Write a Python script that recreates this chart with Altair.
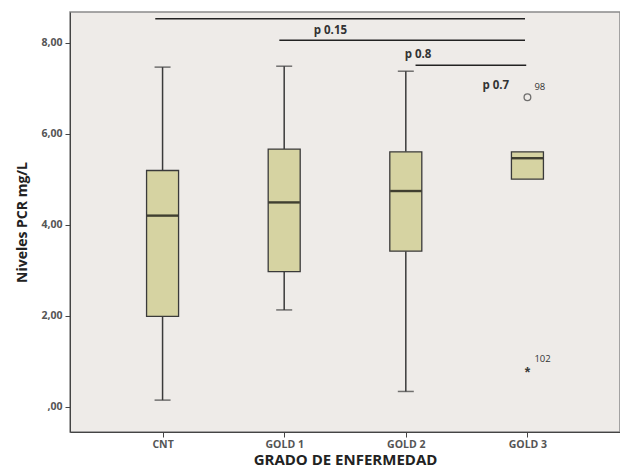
import altair as alt
import pandas as pd

# ---- data ----
categories = ["CNT", "GOLD 1", "GOLD 2", "GOLD 3"]
mins = [0.15, 2.13, 0.34, 5.00]
q1s = [1.99, 2.97, 3.42, 5.00]
medians = [4.20, 4.49, 4.74, 5.46]
q3s = [5.19, 5.66, 5.60, 5.60]
maxs = [7.46, 7.48, 7.37, 5.60]

outlier_cat = [3, 3]
outlier_val = [6.80, 0.83]
outlier_id = ["98", "102"]
outlier_sym = ["o", "*"]

# significance bars (x positions in category units)
sig_x1 = [-0.06, 0.96, 2.08]
sig_x2 = [2.98, 2.98, 2.99]
sig_y = [8.52, 8.05, 7.50]
sig_text = ["p 0.15", "p 0.8", "p 0.7"]
sig_text_x = [1.38, 2.10, 2.74]
sig_text_y = [8.25, 7.72, 7.05]

box = pd.DataFrame({
    "pos": list(range(len(categories))),
    "cat": categories,
    "min": mins, "q1": q1s, "med": medians, "q3": q3s, "max": maxs,
})
caps = box[box["min"] < box["q1"]]
outl = pd.DataFrame({"pos": outlier_cat, "val": outlier_val, "id": outlier_id, "sym": outlier_sym})
sig = pd.DataFrame({"x1": sig_x1, "x2": sig_x2, "y": sig_y})
sigt = pd.DataFrame({"x": sig_text_x, "y": sig_text_y, "t": sig_text})

label_expr = "[" + ",".join("'" + c + "'" for c in categories) + "][datum.value]"

xscale = alt.Scale(domain=[-0.72, 3.72], nice=False, zero=False)
yscale = alt.Scale(domain=[-0.55, 8.67], nice=False, zero=False)

xax = alt.Axis(values=[0, 1, 2, 3], labelExpr=label_expr, grid=False,
               title="GRADO DE ENFERMEDAD", titleFontSize=15, titleFont="Open Sans",
               titleFontWeight="bold", titleColor="#222", titlePadding=15,
               titleBaseline="alphabetic",
               labelFont="Open Sans", labelFontSize=10.5, labelFontWeight="bold",
               labelColor="#555", tickColor="#444", tickSize=5, domainColor="#444",
               labelPadding=2)
yax = alt.Axis(values=[0, 2, 4, 6, 8],
               labelExpr="datum.value == 0 ? ',00' : replace(format(datum.value, '.2f'), '.', ',')",
               grid=False, title="Niveles PCR mg/L", titleFontSize=14,
               titleFont="Open Sans", titleFontWeight="bold", titleColor="#222",
               titlePadding=11, labelFont="Open Sans", labelFontSize=10.5,
               labelFontWeight="bold", labelColor="#555", tickColor="#444",
               tickSize=5, domainColor="#444", labelPadding=3)

X = alt.X("pos:Q", scale=xscale, axis=xax)
stroke = "#3a3a3a"

whisk_lo = alt.Chart(box).mark_rule(color=stroke, strokeWidth=1.5).encode(
    x=X, y=alt.Y("min:Q", scale=yscale, axis=yax), y2="q1:Q")
whisk_hi = alt.Chart(box).mark_rule(color=stroke, strokeWidth=1.5).encode(
    x="pos:Q", y="q3:Q", y2="max:Q")
cap_lo = alt.Chart(caps).mark_tick(color=stroke, size=16, thickness=1.5, orient="horizontal").encode(
    x="pos:Q", y="min:Q")
cap_hi = alt.Chart(caps).mark_tick(color=stroke, size=16, thickness=1.5, orient="horizontal").encode(
    x="pos:Q", y="max:Q")
bars = alt.Chart(box).mark_bar(size=32, color="#d6d3a2", stroke=stroke, strokeWidth=1.3).encode(
    x="pos:Q", y="q1:Q", y2="q3:Q")
med = alt.Chart(box).mark_tick(color="#000", size=31, thickness=2.4, orient="horizontal").encode(
    x="pos:Q", y="med:Q")

circ = alt.Chart(outl[outl["sym"] == "o"]).mark_point(shape="circle", size=45, color=stroke,
                                                     strokeWidth=1.3, filled=False).encode(
    x="pos:Q", y="val:Q")
star = alt.Chart(outl[outl["sym"] == "*"]).mark_text(text="*", fontSize=14, fontWeight="bold",
                                                    color=stroke, dy=4).encode(
    x="pos:Q", y="val:Q")
ids = alt.Chart(outl).mark_text(align="left", dx=7, dy=-10, fontSize=9.5, font="Open Sans",
                                color="#333").encode(
    x="pos:Q", y="val:Q", text="id:N")

sig_lines = alt.Chart(sig).mark_rule(color="#222", strokeWidth=1.5).encode(
    x="x1:Q", x2="x2:Q", y="y:Q")
sig_labels = alt.Chart(sigt).mark_text(fontSize=11.5, font="Open Sans", fontWeight="bold",
                                       color="#333").encode(
    x="x:Q", y="y:Q", text="t:N")

chart = alt.layer(whisk_lo, whisk_hi, cap_lo, cap_hi, bars, med, circ, star, ids,
                  sig_lines, sig_labels).properties(
    width=550, height=420,
    padding={"left": 62, "top": 4, "right": 0, "bottom": 36},
    autosize=alt.AutoSizeParams(type="none"),
    background="white",
).configure_view(fill="#eeebe8", stroke="#8a8a8a", strokeWidth=1.5)

chart.save("out.html", embed_options={"renderer": "svg", "actions": False})
